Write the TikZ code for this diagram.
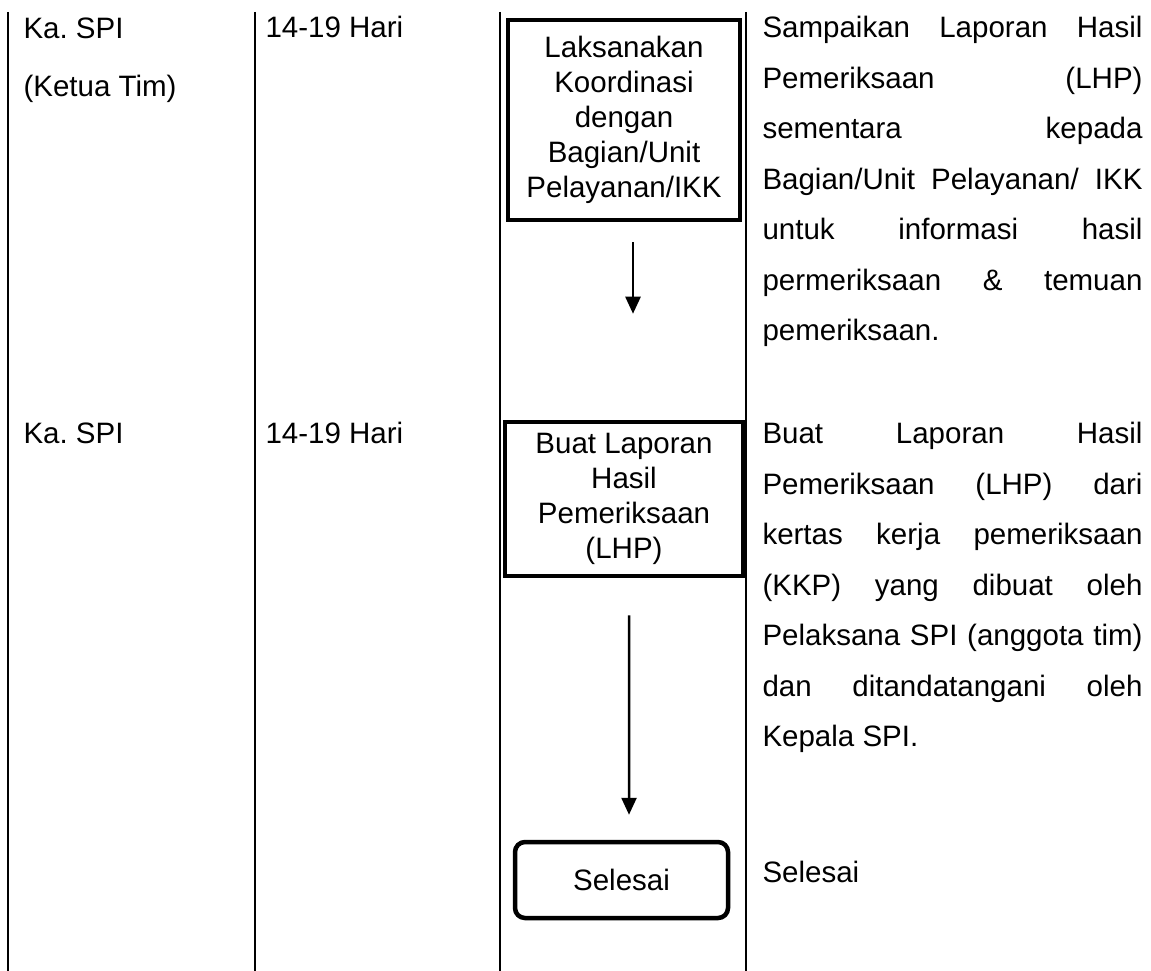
\documentclass[tikz,border=0pt]{standalone}
\usepackage{fontspec}
\setmainfont{Liberation Sans}
\frenchspacing
\hyphenpenalty=10000\relax
\tolerance=10000\relax
\usetikzlibrary{positioning, arrows.meta}

\begin{document}
\begin{tikzpicture}[
    x=0.4pt, y=-0.4pt,
    every node/.style={font=\fontsize{11.8}{14}\selectfont},
    >={Triangle[width=6pt, length=6.8pt]},
    colline/.style={line width=1pt},
    flow/.style={->, line width=1pt},
    stepbox/.style={rectangle, draw, line width=1.8pt, align=center, inner sep=0pt},
    endbox/.style={rectangle, rounded corners=4pt, draw, line width=1.8pt, minimum width=85.2pt, minimum height=30.4pt, inner sep=0pt},
    cell/.style={anchor=north west, inner sep=0pt, align=left, font=\fontsize{11.8}{23.2}\selectfont},
    desc/.style={anchor=north west, inner sep=0pt, text width=152pt, align=justify,
        font=\fontsize{11.8}{20.2}\selectfont},
]

\useasboundingbox (0,0) rectangle (1151,971);
\fill[white] (0,0) rectangle (1151,971);

% Column lines
\foreach \x in {8, 255, 500, 746} {
    \draw[colline] (\x,12) -- (\x,971);
}

% Row 1
\node[cell] (pel1) at (23,17) {Ka. SPI\\(Ketua Tim)};
\node[cell] (wkt1) at (265,16) {14-19 Hari};
\node[stepbox, minimum width=92.8pt, minimum height=80pt] (koord) at (624,120)
    {Laksanakan\\Koordinasi\\dengan\\Bagian/Unit\\Pelayanan/IKK};
\node[desc] (ket1) at (762,16) {Sampaikan Laporan Hasil\linebreak
    Pemeriksaan (LHP)\linebreak
    sementara kepada\linebreak
    Bagian/Unit Pelayanan/ IKK\linebreak
    untuk informasi hasil\linebreak
    permeriksaan \& temuan\linebreak
    pemeriksaan.};

% Row 2
\node[cell] (pel2) at (23,422) {Ka. SPI};
\node[cell] (wkt2) at (265,422) {14-19 Hari};
\node[stepbox, minimum width=95.2pt, minimum height=61.6pt] (lhp) at (624,499)
    {Buat Laporan\\Hasil\\Pemeriksaan\\(LHP)};
\node[desc] (ket2) at (762,422) {Buat Laporan Hasil\linebreak
    Pemeriksaan (LHP) dari\linebreak
    kertas kerja pemeriksaan\linebreak
    (KKP) yang dibuat oleh\linebreak
    Pelaksana SPI (anggota tim)\linebreak
    dan ditandatangani oleh\linebreak
    Kepala SPI.};

% End
\node[endbox] (selesai) at (621.5,880) {Selesai};
\node[cell] (ket3) at (762,861) {Selesai};

% Arrows
\draw[flow] ([xshift=3.6pt, yshift=-8pt]koord.south) -- ([xshift=3.6pt, yshift=42.4pt]lhp.north);
\draw[flow] ([xshift=2pt, yshift=-14.8pt]lhp.south) -- ([xshift=3pt, yshift=10pt]selesai.north);

\end{tikzpicture}
\end{document}
